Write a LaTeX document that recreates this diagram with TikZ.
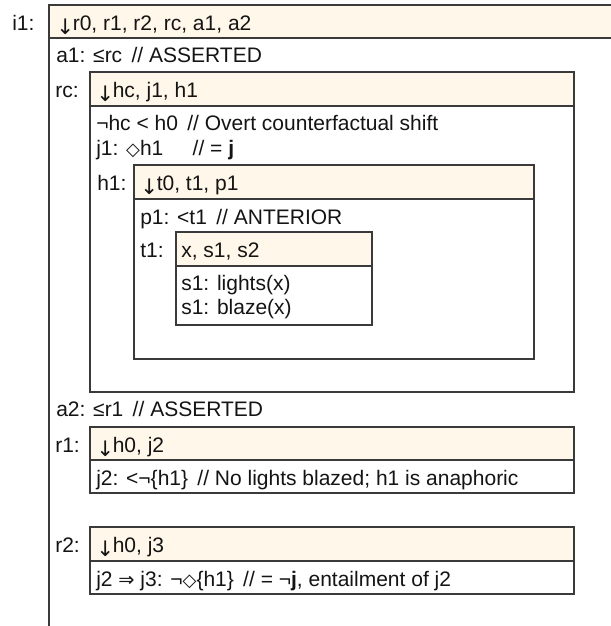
\documentclass[tikz,border=0pt]{standalone}
\usepackage{fontspec}
\setmainfont{Liberation Sans}
\newfontfamily\symfam{DejaVu Sans}

\definecolor{boxline}{HTML}{3A3A3A}
\definecolor{headfill}{HTML}{FFF7E9}
\definecolor{ink}{HTML}{141414}

% A DRS frame: name, left, top, right, bottom of header, bottom
\newcommand\drsframe[6]{%
  \fill[headfill] (#2,#3) rectangle (#4,#5);
  \draw[frame] (#2,#3) rectangle coordinate (#1) (#4,#6);
  \draw[frame] (#2,#5) -- (#4,#5);
}
\newcommand\dmd{{\symfam\fontsize{13.5}{13.5}\selectfont ◇}}
\newcommand\impl{{\symfam\fontsize{14.5}{14.5}\selectfont ⇒}}
\newcommand\dn{\raisebox{-3pt}{\symfam\fontsize{16}{16}\selectfont ↓}\hspace{-1pt}}

\begin{document}
\begin{tikzpicture}[x=0.75pt,y=-0.75pt,
  frame/.style={draw=boxline,line width=1.1pt},
  txt/.style={anchor=base west,inner sep=0pt,text=ink,
    font=\fontsize{15.75}{18}\selectfont}]
\useasboundingbox (0,0) rectangle (611,626);
\fill[white] (0,0) rectangle (611,626);
\clip (0,0) rectangle (611,626);

% frames, outermost first
\drsframe{i1box}{49}{5}{660}{38}{680}
\drsframe{rcbox}{90}{72}{574}{106}{392}
\drsframe{h1box}{134}{165}{534}{199}{359}
\drsframe{t1box}{176}{232}{372}{266}{325}
\drsframe{r1box}{90}{427}{574}{460}{493}
\drsframe{r2box}{90}{527}{574}{561}{594}

% i1
\node[txt] (li1) at (12,30) {i1:};
\node[txt] (hi1) at (56,30) {\dn r0, r1, r2, rc, a1, a2};
\node[txt] (ca1) at (56,62) {a1: ≤rc\hspace{7pt}// ASSERTED};
% rc
\node[txt] (lrc) at (55,97) {rc:};
\node[txt] (hrc) at (96,97) {\dn hc, j1, h1};
\node[txt] (chc) at (96,130) {¬hc < h0\hspace{7pt}// Overt counterfactual shift};
\node[txt] (cj1) at (96,155) {j1: \dmd h1\hspace{22pt}// = \textbf{j}};
% h1
\node[txt] (lh1) at (97,190) {h1:};
\node[txt] (hh1) at (140,190) {\dn t0, t1, p1};
\node[txt] (cp1) at (140,224) {p1: <t1\hspace{7pt}// ANTERIOR};
% t1
\node[txt] (lt1) at (140,257) {t1:};
\node[txt] (ht1) at (181,257) {x, s1, s2};
\node[txt] (cs1) at (181,290) {s1: lights(x)};
\node[txt] (cs2) at (181,314) {s1: blaze(x)};
% a2, r1, r2
\node[txt] (ca2) at (56,416) {a2: ≤r1\hspace{7pt}// ASSERTED};
\node[txt] (lr1) at (55,452) {r1:};
\node[txt] (hr1) at (96,452) {\dn h0, j2};
\node[txt] (cj2) at (96,485) {j2: <¬\{h1\}\hspace{7pt}// No lights blazed; h1 is anaphoric};
\node[txt] (lr2) at (55,552) {r2:};
\node[txt] (hr2) at (96,552) {\dn h0, j3};
\node[txt] (cj3) at (96,586) {j2 \impl{} j3: ¬\dmd\{h1\}\hspace{7pt}// = ¬\textbf{j}, entailment of j2};
\end{tikzpicture}
\end{document}
